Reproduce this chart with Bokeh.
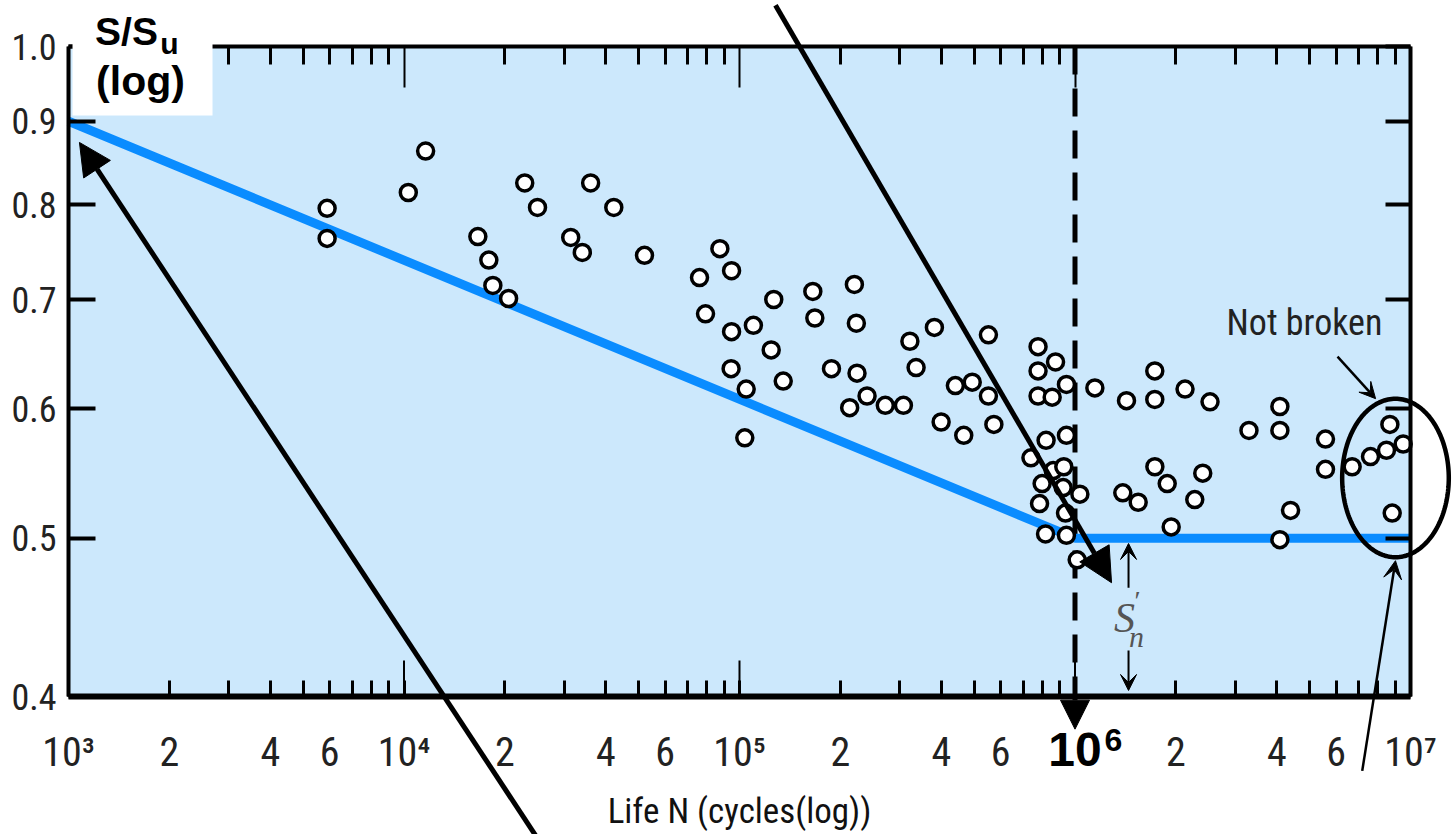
import numpy as np
from bokeh.plotting import figure
from bokeh.models import (Range1d, LogAxis, FixedTicker, Arrow, NormalHead, VeeHead,
                          Label, BoxAnnotation, PolyAnnotation)
from bokeh.embed import file_html
from bokeh.resources import INLINE

# ---------------- data ----------------
life_N = [5.9e3, 5.9e3, 1.03e4, 1.16e4, 1.66e4, 1.79e4, 1.84e4, 2.05e4, 2.29e4, 2.50e4,
          3.14e4, 3.40e4, 3.60e4, 4.22e4, 5.21e4,
          8.74e4, 9.47e4, 7.60e4, 7.92e4, 9.47e4, 1.10e5, 1.265e5, 1.243e5, 9.44e4, 1.047e5,
          1.35e5, 1.037e5, 1.654e5, 1.677e5, 2.20e5, 2.23e5, 1.88e5, 2.24e5, 2.40e5, 2.13e5,
          2.72e5, 3.08e5, 3.22e5, 3.36e5, 3.81e5, 4.40e5, 4.94e5, 5.52e5, 3.99e5, 4.66e5,
          5.73e5, 5.52e5,
          7.76e5, 7.76e5, 8.75e5, 7.76e5, 8.55e5, 9.43e5, 1.146e6, 8.20e5, 9.43e5, 7.39e5,
          8.61e5, 9.26e5, 7.98e5, 9.22e5, 1.034e6, 7.84e5, 9.37e5, 8.17e5, 9.43e5, 1.015e6,
          1.424e6, 1.729e6, 1.729e6, 2.128e6, 2.526e6, 1.388e6, 1.543e6, 1.73e6, 1.883e6,
          2.403e6, 2.275e6, 1.935e6,
          3.30e6, 4.08e6, 4.08e6, 5.58e6, 5.58e6, 4.39e6, 4.08e6, 6.70e6, 7.60e6, 8.48e6,
          8.68e6, 9.51e6, 8.82e6]
s_ratio = [0.796, 0.763, 0.814, 0.863, 0.765, 0.740, 0.714, 0.701, 0.825, 0.797,
           0.764, 0.748, 0.825, 0.797, 0.745,
           0.752, 0.729, 0.722, 0.686, 0.669, 0.675, 0.700, 0.652, 0.635, 0.617,
           0.624, 0.576, 0.708, 0.682, 0.715, 0.677, 0.635, 0.631, 0.611, 0.601,
           0.603, 0.603, 0.660, 0.636, 0.673, 0.620, 0.623, 0.611, 0.589, 0.578,
           0.587, 0.666,
           0.655, 0.633, 0.641, 0.611, 0.610, 0.621, 0.618, 0.574, 0.578, 0.560,
           0.550, 0.553, 0.540, 0.537, 0.532, 0.525, 0.518, 0.503, 0.502, 0.485,
           0.607, 0.633, 0.608, 0.617, 0.606, 0.533, 0.526, 0.553, 0.540,
           0.548, 0.528, 0.508,
           0.582, 0.602, 0.582, 0.575, 0.551, 0.520, 0.499, 0.553, 0.561, 0.566,
           0.587, 0.571, 0.518]

# S-N design line: (N, S/Su)
sn_N = [1e3, 1e6, 1e7]
sn_S = [0.9, 0.5, 0.5]
endurance_N = 1e6

# axis extents and ticks
x_min, x_max = 1e3, 1e7
y_min, y_max = 0.4, 1.0
x_decades = [1000, 10000, 100000, 1000000, 10000000]
x_label_ticks = [1000, 2000, 4000, 6000, 10000, 20000, 40000, 60000, 100000, 200000,
                 400000, 600000, 1000000, 2000000, 4000000, 6000000, 10000000]
x_tick_labels = ["10³", "2", "4", "6", "10⁴", "2", "4", "6", "10⁵", "2", "4", "6",
                 "", "2", "4", "6", "10⁷"]
x_unlabelled_mult = [3, 5, 7, 8, 9]
x_all_mult = [2, 3, 4, 5, 6, 7, 8, 9]
y_ticks = [0.4, 0.5, 0.6, 0.7, 0.8, 0.9, 1.0]
y_tick_labels = ["0.4", "0.5", "0.6", "0.7", "0.8", "0.9", "1.0"]

# ---------------- layout / style ----------------
W, H = 1452, 834
PAD_L, PAD_R, PAD_T, PAD_B = 68, 42, 46, 138      # margins round the axes box (px)
PX_DEC_X = (W - PAD_L - PAD_R) / np.log10(x_max / x_min)
PX_DEC_Y = (H - PAD_T - PAD_B) / np.log10(y_max / y_min)

NARROW = "'Roboto Condensed', 'DejaVu Sans Condensed', 'Liberation Sans Narrow', Roboto, sans-serif"
ARIAL = "Liberation Sans"
BG = "#CCE8FC"
BLUE = "#0A8CFF"

x_range = Range1d(x_min * 10 ** (-PAD_L / PX_DEC_X), x_max * 10 ** (PAD_R / PX_DEC_X))
y_range = Range1d(y_min * 10 ** (-PAD_B / PX_DEC_Y), y_max * 10 ** (PAD_T / PX_DEC_Y))

p = figure(width=W, height=H, x_axis_type="log", y_axis_type="log",
           x_range=x_range, y_range=y_range,
           output_backend="svg", toolbar_location=None,
           min_border=0)
p.background_fill_color = "white"
p.border_fill_color = "white"
p.outline_line_color = None
p.grid.visible = False

# light-blue axes box
p.add_layout(BoxAnnotation(left=x_min, right=x_max, bottom=y_min, top=y_max,
                           fill_color=BG, fill_alpha=1.0, line_color=None,
                           level="underlay"))

minor_bottom = [m * d for d in x_decades[:-1] for m in x_unlabelled_mult]
minor_top = [m * d for d in x_decades[:-1] for m in x_all_mult]

# bottom axis
xa = p.xaxis[0]
xa.fixed_location = y_min
xa.bounds = (x_min, x_max)
xa.ticker = FixedTicker(ticks=x_label_ticks, minor_ticks=minor_bottom)
xa.major_label_overrides = {t: s for t, s in zip(x_label_ticks, x_tick_labels)}
xa.major_tick_in = 16
xa.major_tick_out = 0
xa.major_tick_line_width = 3
xa.minor_tick_in = 16
xa.minor_tick_out = 0
xa.minor_tick_line_width = 3
xa.axis_line_width = 6
xa.major_label_text_font = NARROW
xa.major_label_text_font_size = "40px"
xa.major_label_text_color = "#222222"
xa.major_label_standoff = 32
xa.axis_label = "Life N (cycles(log))"
xa.axis_label_text_font = NARROW
xa.axis_label_text_font_size = "35px"
xa.axis_label_text_font_style = "normal"
xa.axis_label_text_color = "#111111"
xa.axis_label_standoff = 12

# left axis
ya = p.yaxis[0]
ya.fixed_location = x_min
ya.bounds = (y_min, y_max)
ya.ticker = FixedTicker(ticks=y_ticks, minor_ticks=[])
ya.major_label_overrides = {t: s for t, s in zip(y_ticks, y_tick_labels)}
ya.major_tick_in = 27
ya.major_tick_out = 0
ya.major_tick_line_width = 4
ya.minor_tick_in = 0
ya.minor_tick_out = 0
ya.axis_line_width = 4
ya.major_label_text_font = NARROW
ya.major_label_text_font_size = "36px"
ya.major_label_text_color = "#222222"
ya.major_label_standoff = 12

# top axis (ticks only)
ta = LogAxis(fixed_location=y_max, bounds=(x_min, x_max),
             ticker=FixedTicker(ticks=x_decades, minor_ticks=minor_top),
             major_label_overrides={t: "" for t in x_decades},
             major_tick_in=41, major_tick_out=0, major_tick_line_width=2,
             minor_tick_in=18, minor_tick_out=0, minor_tick_line_width=3,
             axis_line_width=4, major_label_standoff=0)
p.add_layout(ta, "above")

# right axis (ticks only)
ra = LogAxis(fixed_location=x_max, bounds=(y_min, y_max),
             ticker=FixedTicker(ticks=y_ticks, minor_ticks=[]),
             major_label_overrides={t: "" for t in y_ticks},
             major_tick_in=25, major_tick_out=0, major_tick_line_width=4,
             minor_tick_in=0, minor_tick_out=0, axis_line_width=4,
             major_label_standoff=0)
p.add_layout(ra, "right")

# long thin decade ticks on the bottom axis
p.ray(x=x_decades, y=y_min, length=36, length_units="screen", angle=90,
      angle_units="deg", line_color="black", line_width=2)

# dashed 10^6 line with arrow below the axis
p.add_layout(Arrow(x_start=endurance_N, y_start=y_max, x_end=endurance_N, y_end=0.382,
                   line_color="black", line_width=5, line_dash="28 14", level="underlay",
                   end=NormalHead(size=29, fill_color="black", line_color="black")))

# S-N line
p.line(sn_N, sn_S, line_color=BLUE, line_width=9)

# data points
p.scatter(life_N, s_ratio, size=16, marker="circle", fill_color="white",
          line_color="black", line_width=3.5)

# white box behind the y label
p.add_layout(BoxAnnotation(left=1.028e3, right=2.687e3, top=1.2, bottom=0.9074,
                           fill_color="white", fill_alpha=1.0, line_color=None))
p.add_layout(Label(x=1.489e3, y=1.0214, text="S/S", text_font=ARIAL,
                   text_font_size="39px", text_font_style="bold", text_color="black",
                   text_align="center", text_baseline="middle"))
p.add_layout(Label(x=2.0e3, y=1.0042, text="u", text_font=ARIAL,
                   text_font_size="30px", text_font_style="bold", text_color="black",
                   text_align="center", text_baseline="middle"))
p.add_layout(Label(x=1.639e3, y=0.952, text="(log)", text_font=ARIAL,
                   text_font_size="41px", text_font_style="bold", text_color="black",
                   text_align="center", text_baseline="middle"))

# big black arrows
p.add_layout(Arrow(x_start=2.48e4, y_start=0.3283, x_end=1.078e3, y_end=0.8735,
                   line_color="black", line_width=5,
                   end=NormalHead(size=32, fill_color="black", line_color="black")))
p.add_layout(Arrow(x_start=1.28e5, y_start=1.06, x_end=1.285e6, y_end=0.4696,
                   line_color="black", line_width=5,
                   end=NormalHead(size=34, fill_color="black", line_color="black")))

# "Not broken" ellipse + arrows
t = np.linspace(0, 2 * np.pi, 181)
ell_cx, ell_cy, ell_a, ell_b = np.log10(9.02e6), np.log10(0.5443), 0.1589, 0.0485
p.add_layout(PolyAnnotation(xs=list(10 ** (ell_cx + ell_a * np.cos(t))),
                            ys=list(10 ** (ell_cy + ell_b * np.sin(t))),
                            fill_color=None, line_color="black", line_alpha=1.0,
                            line_width=4.5))
p.add_layout(Label(x=4.83e6, y=0.6776, text="Not broken", text_font=NARROW,
                   text_font_size="36px", text_color="#222222",
                   text_align="center", text_baseline="middle"))
p.add_layout(Arrow(x_start=6.06e6, y_start=0.6458, x_end=7.87e6, y_end=0.6087,
                   line_color="black", line_width=2.5,
                   end=VeeHead(size=16, fill_color="black", line_color="black")))
p.add_layout(Arrow(x_start=7.18e6, y_start=0.3602, x_end=9.02e6, y_end=0.4844,
                   line_color="black", line_width=2.5,
                   end=VeeHead(size=18, fill_color="black", line_color="black")))

# S'_n dimension arrows and label
p.add_layout(Arrow(x_start=1.444e6, y_start=0.4663, x_end=1.444e6, y_end=0.4963,
                   line_color="black", line_width=2,
                   end=VeeHead(size=16, fill_color="black", line_color="black")))
p.add_layout(Arrow(x_start=1.444e6, y_start=0.4268, x_end=1.444e6, y_end=0.4034,
                   line_color="black", line_width=2,
                   end=VeeHead(size=16, fill_color="black", line_color="black")))
p.add_layout(Label(x=1.405e6, y=0.447, text="S", text_font="Liberation Serif",
                   text_font_size="42px", text_font_style="italic", text_color="#555555",
                   text_align="center", text_baseline="middle"))
p.add_layout(Label(x=1.536e6, y=0.458, text="′", text_font="Liberation Serif",
                   text_font_size="28px", text_color="#555555",
                   text_align="center", text_baseline="middle"))
p.add_layout(Label(x=1.525e6, y=0.435, text="n", text_font="Liberation Serif",
                   text_font_size="30px", text_font_style="italic", text_color="#555555",
                   text_align="center", text_baseline="middle"))

# bold 10^6 label
p.add_layout(Label(x=endurance_N, y=0.3712, text="10", text_font=ARIAL,
                   text_font_size="48px", text_font_style="bold", text_color="black",
                   text_align="center", text_baseline="middle"))
p.add_layout(Label(x=1.302e6, y=0.3764, text="6", text_font=ARIAL,
                   text_font_size="32px", text_font_style="bold", text_color="black",
                   text_align="center", text_baseline="middle"))

open("out.html", "w").write(file_html(p, INLINE))
